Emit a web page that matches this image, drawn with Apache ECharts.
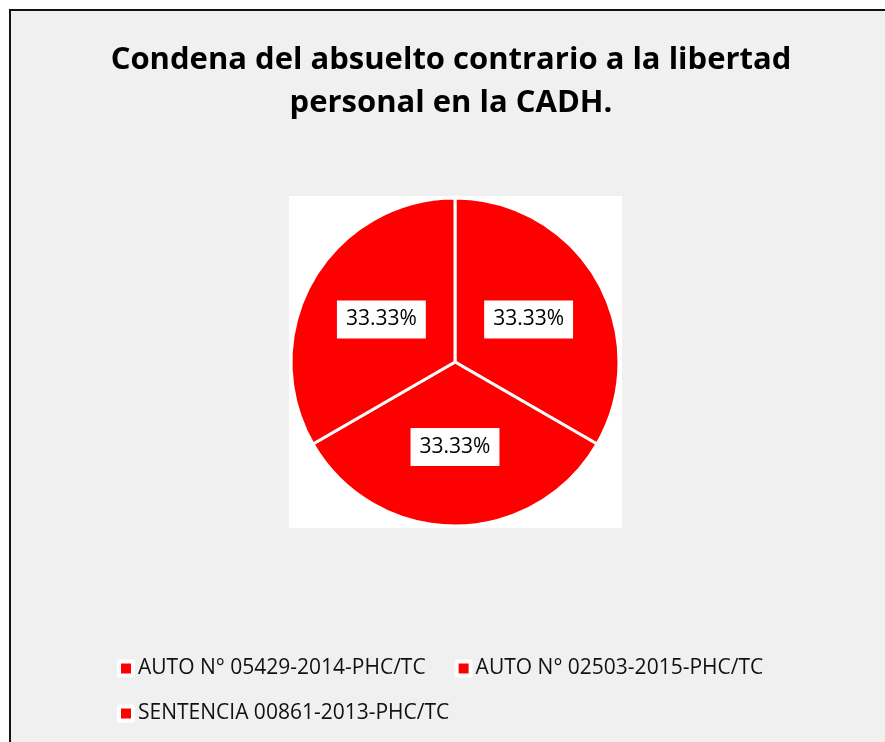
<!DOCTYPE html>
<html>
<head>
<meta charset="utf-8">
<script src="https://cdn.jsdelivr.net/npm/echarts@6/dist/echarts.min.js"></script>
<style>
  html, body { margin: 0; padding: 0; background: #fff; }
  #frame {
    position: absolute; left: 9px; top: 9px; width: 900px; height: 760px;
    background: #f0f0f0; border: 2px solid #111;
  }
  #main { position: absolute; left: 0; top: 0; width: 885px; height: 742px; }
</style>
</head>
<body>
<div id="frame"></div>
<div id="main"></div>
<script>
  // datos del grafico
  var titleText = 'Condena del absuelto contrario a la libertad\npersonal en la CADH.';
  var categories = [
    'AUTO N° 05429-2014-PHC/TC',
    'AUTO N° 02503-2015-PHC/TC',
    'SENTENCIA 00861-2013-PHC/TC'
  ];
  var values = [1, 1, 1];
  var colors = ['#ff0000', '#ff0000', '#ff0000'];

  var total = 0;
  var pieData = [];
  for (var i = 0; i < categories.length; i++) {
    total += values[i];
    pieData.push({ name: categories[i], value: values[i], itemStyle: { color: colors[i] } });
  }

  var legendText = {
    fontFamily: 'Open Sans',
    fontSize: 21,
    lineHeight: 16,
    color: '#111'
  };
  //leyenda en dos filas
  function makeLegend(items, top) {
    return {
      left: 112,
      top: top,
      orient: 'horizontal',
      icon: 'rect',
      itemWidth: 14,
      itemHeight: 14,
      itemGap: 29,
      selectedMode: false,
      itemStyle: { borderColor: '#fff', borderWidth: 4 },
      textStyle: legendText,
      data: items
    };
  }

  var chart = echarts.init(document.getElementById('main'));
  chart.setOption({
    animation: false,
    title: {
      text: titleText,
      left: 446,
      top: 34,
      textAlign: 'center',
      textStyle: {
        fontFamily: 'Open Sans',
        fontWeight: 'bold',
        fontSize: 31,
        lineHeight: 43,
        color: '#000'
      }
    },
    //fondo blanco del area del grafico
    graphic: [{
      type: 'rect',
      left: 289,
      top: 196,
      shape: { width: 333, height: 332 },
      style: { fill: '#fff' },
      silent: true,
      z: -1
    }],
    legend: [
      makeLegend(categories.slice(0, 2), 653),
      makeLegend(categories.slice(2), 698)
    ],
    series: [{
      type: 'pie',
      center: [455, 362],
      radius: 164,
      startAngle: 90,
      clockwise: true,
      avoidLabelOverlap: false,
      itemStyle: { borderColor: '#fff', borderWidth: 3 },
      emphasis: { disabled: true },
      label: {
        show: true,
        position: 'inside',
        formatter: function (p) {
          return (p.value / total * 100).toFixed(2) + '%';
        },
        fontFamily: 'Open Sans',
        fontSize: 21,
        lineHeight: 22,
        color: '#000',
        backgroundColor: '#fff',
        padding: [9, 9, 7, 9]
      },
      labelLine: { show: false },
      data: pieData
    }]
  });
</script>
</body>
</html>
